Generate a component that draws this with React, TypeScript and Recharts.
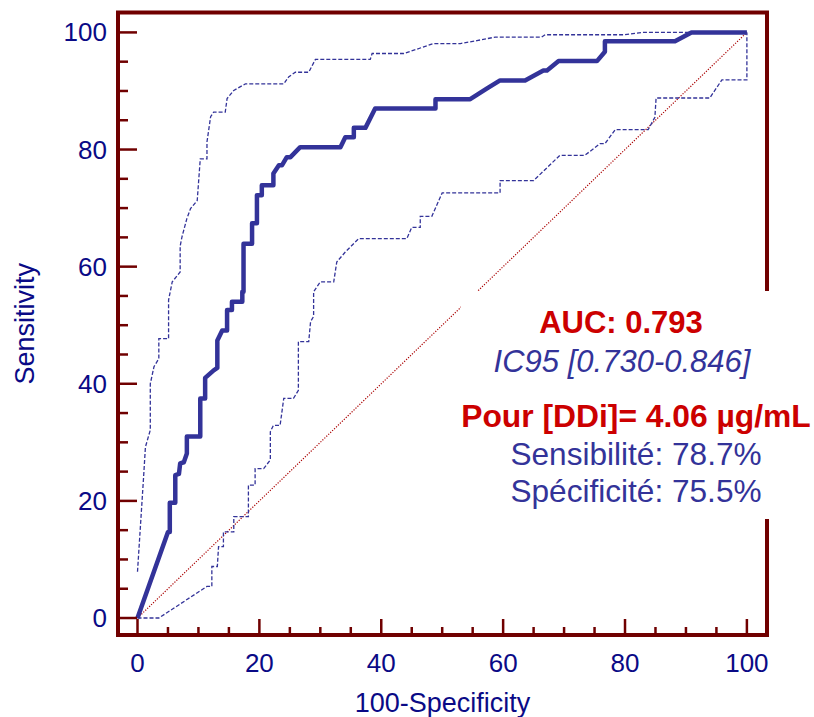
import React from "react";
import { ComposedChart, Line, XAxis, YAxis, ReferenceArea } from "recharts";

// ROC curve points: [100-specificity, sensitivity]
const ROC_POINTS: [number, number][] = [
  [0, 0], [5.0, 14.7], [5.3, 14.7], [5.3, 19.7], [6.2, 19.7], [6.2, 24.4],
  [6.8, 24.6], [7.0, 26.4], [7.6, 26.6], [8.1, 28.1], [8.1, 31.0], [10.3, 31.0],
  [10.3, 37.5], [11.1, 37.5], [11.1, 41.0], [12.5, 42.3], [13.1, 42.7], [13.1, 47.4],
  [13.9, 49.1], [14.7, 49.1], [14.7, 52.6], [15.5, 52.6], [15.5, 54.0], [17.2, 54.0],
  [17.2, 55.7], [17.4, 55.7], [17.4, 63.9], [18.8, 63.9], [18.8, 67.4], [19.6, 67.4],
  [19.6, 72.2], [20.4, 72.2], [20.4, 73.9], [22.3, 73.9], [22.3, 75.9], [23.2, 77.3],
  [23.7, 77.3], [24.5, 78.7], [25.1, 78.7], [26.7, 80.4], [33.3, 80.4], [34.1, 82.1],
  [35.5, 82.1], [35.5, 83.7], [37.4, 83.7], [39.0, 87.0], [48.9, 87.0], [48.9, 88.6],
  [54.6, 88.6], [57.3, 90.4], [59.5, 91.8], [63.6, 91.8], [66.6, 93.5], [67.2, 93.5],
  [69.1, 95.1], [75.4, 95.1], [76.7, 96.7], [76.7, 98.5], [88.2, 98.5], [90.9, 100],
  [100, 100],
];

// upper 95% confidence bound
const UPPER_POINTS: [number, number][] = [
  [0, 7.9], [1.0, 24.1], [1.3, 29.2], [2.1, 32.1], [2.1, 40.0], [2.7, 42.9],
  [3.5, 44.3], [3.5, 47.7], [5.1, 47.7], [5.1, 54.3], [5.7, 57.4], [7.0, 59.1],
  [7.0, 63.5], [7.3, 65.1], [8.1, 68.2], [8.7, 69.9], [9.8, 71.3], [10.3, 78.4],
  [11.4, 78.4], [11.4, 81.3], [12.0, 85.6], [12.5, 86.4], [14.4, 86.4], [14.7, 88.7],
  [15.8, 90.1], [17.7, 91.2], [24.0, 91.2], [24.8, 92.4], [25.9, 93.2], [28.1, 93.2],
  [29.2, 95.4], [38.2, 95.4], [38.5, 96.4], [43.7, 96.4], [48.6, 98.1], [53.0, 98.1],
  [55.7, 98.6], [58.7, 99.2], [66.3, 99.2], [66.9, 99.6], [79.7, 99.6], [83.0, 100],
  [100, 100],
];

// lower 95% confidence bound
const LOWER_POINTS: [number, number][] = [
  [0, 0], [3.5, 0], [11.4, 5.4], [12.2, 5.4], [12.2, 8.8], [13.1, 8.8],
  [13.3, 12.2], [14.1, 12.2], [14.1, 14.7], [15.8, 14.7], [15.8, 17.3], [18.2, 17.3],
  [18.2, 22.7], [19.3, 22.7], [19.3, 25.5], [20.7, 25.5], [21.8, 27.0], [21.8, 31.8],
  [22.3, 32.9], [23.4, 32.9], [24.0, 37.5], [25.6, 37.5], [26.4, 38.9], [26.4, 47.2],
  [28.1, 47.2], [28.4, 50.6], [28.9, 51.5], [28.9, 55.7], [30.0, 57.4], [32.2, 57.4],
  [32.7, 60.8], [34.1, 62.5], [36.3, 64.8], [44.2, 64.8], [45.0, 66.7], [46.4, 66.7],
  [46.4, 68.6], [48.3, 68.6], [50.0, 72.6], [59.5, 72.6], [59.5, 74.7], [65.0, 74.7],
  [69.3, 79.0], [73.4, 79.0], [75.9, 81.0], [76.7, 81.0], [78.4, 83.4], [83.8, 83.4],
  [84.9, 85.5], [85.1, 88.8], [93.9, 88.8], [95.9, 91.9], [100, 91.9], [100, 100],
];

const DIAGONAL: [number, number][] = [[0, 0], [100, 100]];

const TICKS = [0, 5, 10, 15, 20, 25, 30, 35, 40, 45, 50, 55, 60, 65, 70, 75, 80, 85, 90, 95, 100];
const X_DOMAIN: [number, number] = [-3.2, 103.3];
const Y_DOMAIN: [number, number] = [-2.9, 103.4];

const toRows = (pts: [number, number][]) => pts.map(([x, y]) => ({ x, y }));

const W = 814;
const H = 717;
const PLOT_LEFT = 118;
const PLOT_RIGHT = 767;
const PLOT_TOP = 12.5;
const PLOT_BOTTOM = 635;
const Y_AXIS_W = 80;
const X_AXIS_H = 60;

const FRAME = "#700000";
const NAVY = "#0a0a86";
const BLUE = "#333399";
const RED = "#cc0000";
const FONT = "'Liberation Sans', Arial, Helvetica, sans-serif";

const YTick = (props: any) => {
  const { y, payload } = props;
  const v = payload.value;
  const major = v % 20 === 0;
  return (
    <g>
      <line x1={PLOT_LEFT} x2={PLOT_LEFT + (major ? 19 : 10)} y1={y} y2={y} stroke={FRAME} strokeWidth={2.5} />
      {major && (
        <text x={107} y={y} dy={9} textAnchor="end" fill={NAVY} fontSize={26} fontFamily={FONT}>
          {v}
        </text>
      )}
    </g>
  );
};

const XTick = (props: any) => {
  const { x, payload } = props;
  const v = payload.value;
  const major = v % 20 === 0;
  return (
    <g>
      <line x1={x} x2={x} y1={PLOT_BOTTOM} y2={PLOT_BOTTOM - (major ? 16 : 8)} stroke={FRAME} strokeWidth={2.5} />
      {major && (
        <text x={x} y={672} textAnchor="middle" fill={NAVY} fontSize={26} fontFamily={FONT}>
          {v}
        </text>
      )}
    </g>
  );
};

const XTitle = () => (
  <text x={(PLOT_LEFT + PLOT_RIGHT) / 2} y={712} textAnchor="middle" fill={NAVY} fontSize={27} fontFamily={FONT}>
    100-Specificity
  </text>
);

const YTitle = () => {
  const cy = (PLOT_TOP + PLOT_BOTTOM) / 2;
  return (
    <text
      x={34}
      y={cy}
      transform={`rotate(-90, 34, ${cy})`}
      textAnchor="middle"
      fill={NAVY}
      fontSize={27}
      fontFamily={FONT}
    >
      Sensitivity
    </text>
  );
};

export default function App() {
  return (
    <div style={{ position: "absolute", left: 0, top: 0, width: W, height: H, background: "#fff" }}>
      <ComposedChart
        width={W}
        height={H}
        margin={{
          top: PLOT_TOP,
          left: PLOT_LEFT - Y_AXIS_W,
          right: W - PLOT_RIGHT,
          bottom: H - PLOT_BOTTOM - X_AXIS_H,
        }}
      >
        <XAxis
          type="number"
          dataKey="x"
          domain={X_DOMAIN}
          ticks={TICKS}
          interval={0}
          allowDataOverflow
          height={X_AXIS_H}
          axisLine={false}
          tickLine={false}
          tick={<XTick />}
          label={<XTitle />}
        />
        <YAxis
          type="number"
          domain={Y_DOMAIN}
          ticks={TICKS}
          interval={0}
          allowDataOverflow
          width={Y_AXIS_W}
          axisLine={false}
          tickLine={false}
          tick={<YTick />}
          label={<YTitle />}
        />
        <Line
          data={toRows(DIAGONAL)}
          dataKey="y"
          type="linear"
          stroke="#aa0000"
          strokeWidth={1.2}
          strokeDasharray="1.2 1.5"
          dot={false}
          activeDot={false}
          isAnimationActive={false}
        />
        <Line
          data={toRows(LOWER_POINTS)}
          dataKey="y"
          type="linear"
          stroke={BLUE}
          strokeWidth={1.3}
          strokeDasharray="4 2"
          dot={false}
          activeDot={false}
          isAnimationActive={false}
        />
        <Line
          data={toRows(UPPER_POINTS)}
          dataKey="y"
          type="linear"
          stroke={BLUE}
          strokeWidth={1.3}
          strokeDasharray="4 2"
          dot={false}
          activeDot={false}
          isAnimationActive={false}
        />
        <Line
          data={toRows(ROC_POINTS)}
          dataKey="y"
          type="linear"
          stroke={BLUE}
          strokeWidth={4.5}
          strokeLinejoin="round"
          dot={false}
          activeDot={false}
          isAnimationActive={false}
        />
        <ReferenceArea
          x1={X_DOMAIN[0]}
          x2={X_DOMAIN[1]}
          y1={Y_DOMAIN[0]}
          y2={Y_DOMAIN[1]}
          fill="none"
          stroke={FRAME}
          strokeWidth={4}
          ifOverflow="visible"
        />
      </ComposedChart>
      <svg
        width={W}
        height={H}
        style={{ position: "absolute", left: 0, top: 0, pointerEvents: "none" }}
        fontFamily={FONT}
      >
        <rect x={461} y={291} width={W - 461} height={228} fill="#fff" />
        <text x={621} y={333} textAnchor="middle" fill={RED} fontSize={31} fontWeight="bold">
          AUC: 0.793
        </text>
        <text x={622} y={372} textAnchor="middle" fill={BLUE} fontSize={31} fontStyle="italic">
          IC95 [0.730-0.846]
        </text>
        <text x={636} y={427} textAnchor="middle" fill={RED} fontSize={31.8} fontWeight="bold">
          Pour [DDi]= 4.06 µg/mL
        </text>
        <text x={636} y={465} textAnchor="middle" fill={BLUE} fontSize={31.6}>
          Sensibilité: 78.7%
        </text>
        <text x={636} y={502} textAnchor="middle" fill={BLUE} fontSize={31.6}>
          Spécificité: 75.5%
        </text>
      </svg>
    </div>
  );
}
